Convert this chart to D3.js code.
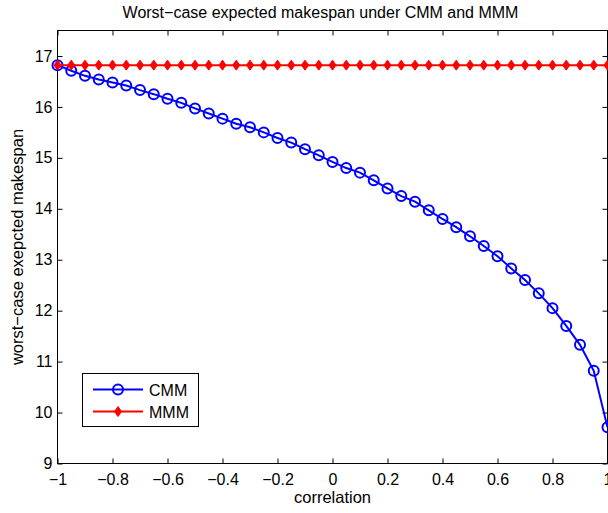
<!DOCTYPE html>
<html>
  <head>
    <meta charset="utf-8">
    <script src="https://d3js.org/d3.v7.min.js"></script>
    <style>
      body { margin: 0; background: #fff; }
      text { font-family: "Liberation Sans", Arial, sans-serif; fill: #000; }
    </style>
  </head>
  <body>
    <script>
      // correlation values, step 0.05
      const rho = d3.range(41).map(i => Math.round((-1 + i * 0.05) * 100) / 100)
      const cmm = [16.82, 16.71, 16.61, 16.54, 16.48, 16.42, 16.33, 16.25, 16.16, 16.08,
                   15.97, 15.87, 15.77, 15.67, 15.60, 15.50, 15.39, 15.30, 15.17, 15.05,
                   14.92, 14.80, 14.71, 14.56, 14.40, 14.25, 14.14, 13.97, 13.80, 13.64,
                   13.46, 13.27, 13.07, 12.83, 12.60, 12.34, 12.05, 11.70, 11.33, 10.82, 9.71]
      const mmm = rho.map(() => 16.82)
      const xTicks = [-1, -0.8, -0.6, -0.4, -0.2, 0, 0.2, 0.4, 0.6, 0.8, 1]
      const yTicks = [9, 10, 11, 12, 13, 14, 15, 16, 17]

      const w = 608, h = 513
      const mLeft = 57.5, mRight = 607.5, mTop = 30.5, mBottom = 463.5

      const svg = d3.select("body").append("svg")
        .attr("width", w).attr("height", h)

      const x = d3.scaleLinear().domain([-1, 1]).range([mLeft, mRight])
      const y = d3.scaleLinear().domain([9, 17.5]).range([mBottom, mTop])

      const fmt = d => (d < 0 ? "\u2212" : "") + Math.abs(d)

      // box
      svg.append("rect")
        .attr("x", mLeft).attr("y", mTop)
        .attr("width", mRight - mLeft).attr("height", mBottom - mTop)
        .attr("fill", "none").attr("stroke", "#000").attr("stroke-width", 1)

      const tl = 5
      svg.append("g").attr("transform", "translate(0," + mBottom + ")")
        .call(d3.axisBottom(x).tickValues(xTicks).tickFormat(fmt).tickSizeInner(-tl).tickSizeOuter(0).tickPadding(10))
      svg.append("g").attr("transform", "translate(0," + mTop + ")")
        .call(d3.axisTop(x).tickValues(xTicks).tickFormat("").tickSizeInner(-tl).tickSizeOuter(0))
      svg.append("g").attr("transform", "translate(" + mLeft + ",0)")
        .call(d3.axisLeft(y).tickValues(yTicks).tickFormat(fmt).tickSizeInner(-tl).tickSizeOuter(0).tickPadding(5))
      svg.append("g").attr("transform", "translate(" + mRight + ",0)")
        .call(d3.axisRight(y).tickValues(yTicks).tickFormat("").tickSizeInner(-tl).tickSizeOuter(0))

      svg.selectAll(".domain").remove()
      svg.selectAll(".tick line").attr("stroke", "#000")
      svg.selectAll(".tick text").attr("font-size", 16).attr("fill", "#000")
        .style("font-family", "Liberation Sans, Arial, sans-serif")

      // title and axis labels
      svg.append("text").attr("x", (mLeft + mRight) / 2 - 12).attr("y", 18)
        .attr("text-anchor", "middle").attr("font-size", 16)
        .text("Worst\u2212case expected makespan under CMM and MMM")
      svg.append("text").attr("x", (mLeft + mRight) / 2).attr("y", 503)
        .attr("text-anchor", "middle").attr("font-size", 16.5)
        .text("correlation")
      svg.append("text")
        .attr("transform", "translate(23," + (mTop + mBottom) / 2 + ") rotate(-90)")
        .attr("text-anchor", "middle").attr("font-size", 16.5)
        .text("worst\u2212case exepcted makespan")

      const line = d3.line().x((d, i) => x(rho[i])).y(d => y(d))
      const diamond = "M0,-5L3.5,0L0,5L-3.5,0Z"

      // CMM
      svg.append("path").datum(cmm).attr("d", line)
        .attr("fill", "none").attr("stroke", "#0000ff").attr("stroke-width", 2)
      svg.append("g").selectAll("circle").data(cmm).join("circle")
        .attr("cx", (d, i) => x(rho[i])).attr("cy", d => y(d)).attr("r", 5)
        .attr("fill", "none").attr("stroke", "#0000ff").attr("stroke-width", 2)

      // MMM
      svg.append("path").datum(mmm).attr("d", line)
        .attr("fill", "none").attr("stroke", "#ff0000").attr("stroke-width", 2)
      svg.append("g").selectAll("path").data(mmm).join("path")
        .attr("transform", (d, i) => "translate(" + x(rho[i]) + "," + y(d) + ")")
        .attr("d", diamond).attr("fill", "#ff0000").attr("stroke", "#ff0000").attr("stroke-width", 1)

      // legend
      const lg = svg.append("g")
      lg.append("rect").attr("x", 82.5).attr("y", 373.5).attr("width", 116).attr("height", 53)
        .attr("fill", "#fff").attr("stroke", "#000").attr("stroke-width", 1)
      const items = [["CMM", "#0000ff", 389.5], ["MMM", "#ff0000", 411.5]]
      items.forEach(([name, col, yy], k) => {
        lg.append("line").attr("x1", 93).attr("x2", 143).attr("y1", yy).attr("y2", yy)
          .attr("stroke", col).attr("stroke-width", 2)
        if (k === 0) {
          lg.append("circle").attr("cx", 118).attr("cy", yy).attr("r", 5)
            .attr("fill", "none").attr("stroke", col).attr("stroke-width", 2)
        } else {
          lg.append("path").attr("transform", "translate(118," + yy + ")").attr("d", diamond)
            .attr("fill", col).attr("stroke", col).attr("stroke-width", 1)
        }
        lg.append("text").attr("x", 149).attr("y", yy + 6).attr("font-size", 16).text(name)
      })
    </script>
  </body>
</html>
